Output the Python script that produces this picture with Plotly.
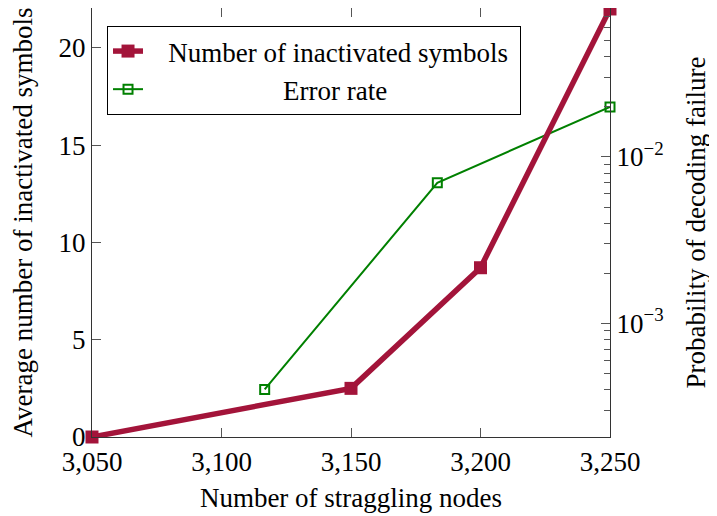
import plotly.graph_objects as go

# Data
red_x = [3050, 3150, 3200, 3250]
red_y = [0, 2.5, 8.7, 22]
green_x = [3116.67, 3183.33, 3250]
green_y = [4e-4, 7e-3, 2e-2]

x_ticks = [3050, 3100, 3150, 3200, 3250]
y_ticks = [0, 5, 10, 15, 20]
y2_ticks = [1e-3, 1e-2]
y2_ticktext = ["10<sup>−3</sup>", "10<sup>−2</sup>"]

RED = "#A3143A"
GREEN = "#008000"
FONT = "Liberation Serif"
FS = 27
NB = "\u00a0"

fig = go.Figure()

# green on log axis (y, right side), red on linear axis (y2, left side) so red is drawn on top
fig.add_trace(go.Scatter(
    x=green_x, y=green_y, name=NB * 20 + "Error rate",
    mode="lines+markers", yaxis="y", legendrank=2,
    line=dict(color=GREEN, width=2),
    marker=dict(symbol="square-open", size=9, color=GREEN, line=dict(width=2, color=GREEN)),
    cliponaxis=False,
))
fig.add_trace(go.Scatter(
    x=red_x, y=red_y, name=NB * 3 + "Number of inactivated symbols" + NB,
    mode="lines+markers", yaxis="y2", legendrank=1,
    line=dict(color=RED, width=5.5),
    marker=dict(symbol="square", size=13, color=RED),
    cliponaxis=False,
))

axis_common = dict(showgrid=False, zeroline=False, showline=True, linecolor="#333333",
                   linewidth=1.3, ticks="inside", tickcolor="#555555", ticklen=9,
                   tickfont=dict(family=FONT, size=FS, color="black"))

fig.update_layout(
    width=709, height=508,
    margin=dict(l=84, r=107, t=0, b=79),
    paper_bgcolor="white", plot_bgcolor="white",
    font=dict(family=FONT, size=FS, color="black"),
    xaxis=dict(**axis_common, range=[3050, 3250], tickvals=x_ticks, tickformat=",d",
               mirror="ticks",
               title=dict(text="Number of straggling nodes", standoff=12,
                          font=dict(family=FONT, size=FS))),
    yaxis=dict(**axis_common, type="log", side="right", range=[-3.684, -1.104],
               tickvals=y2_ticks, ticktext=y2_ticktext,
               minor=dict(ticks="inside", ticklen=6, dtick="D1", tickcolor="#555555", showgrid=False),
               title=dict(text="Probability of decoding failure", standoff=23,
                          font=dict(family=FONT, size=FS))),
    yaxis2=dict(**axis_common, overlaying="y", side="left", range=[0, 22.05],
                tickvals=y_ticks,
                title=dict(text="Average number of inactivated symbols", standoff=20,
                           font=dict(family=FONT, size=FS))),
    legend=dict(x=0.029, y=0.958, xanchor="left", yanchor="top",
                bordercolor="black", borderwidth=1, bgcolor="white",
                font=dict(family=FONT, size=FS), traceorder="normal",
                tracegroupgap=0),
    showlegend=True,
)

fig.write_html("out.html")
